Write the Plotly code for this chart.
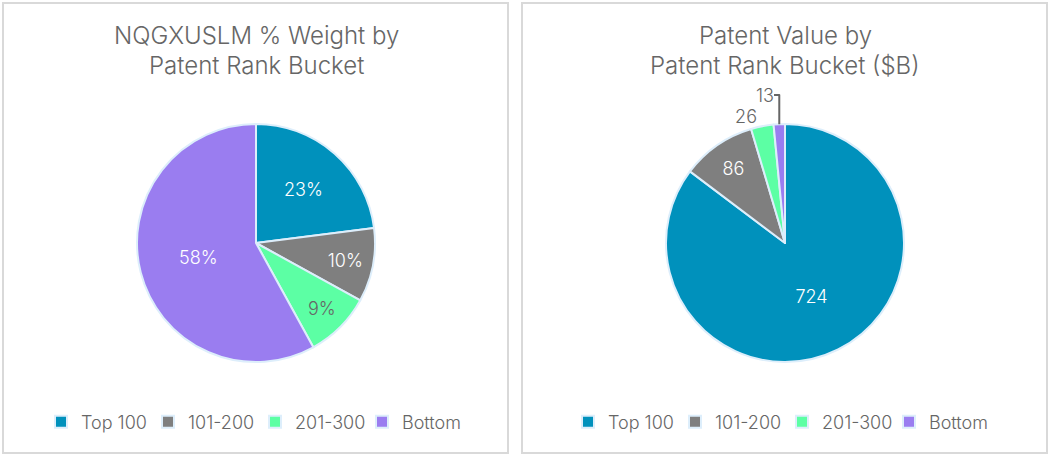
import plotly.graph_objects as go

categories = ["Top 100", "101-200", "201-300", "Bottom"]
weight_pct = [23, 10, 9, 58]
patent_value_b = [724, 86, 26, 13]

colors = ["#0091BC", "#7F7F7F", "#5CFFA4", "#9A7DF0"]
slice_line = "#DDEEFB"
W, H = 1052, 459
FONT = "Inter"
GRAY = "#666666"

fig = go.Figure()

def px(x):
    return x / W

def py(y):
    return 1 - y / H

fig.add_trace(go.Pie(
    labels=categories, values=weight_pct, sort=False, direction="clockwise", rotation=0,
    marker=dict(colors=colors, line=dict(color=slice_line, width=2)),
    texttemplate="%{value}%", textposition="inside",
    insidetextfont=dict(color=["white", "white", GRAY, "white"], size=18, family=FONT, weight=300),
    domain=dict(x=[px(137), px(375)], y=[py(362), py(124)]),
    hoverinfo="label+value", legend="legend",
    insidetextorientation="horizontal",
))

# second pie: labels suffixed with a zero-width space so they get their own legend entries
fig.add_trace(go.Pie(
    labels=[c + "\u200b" for c in categories], values=patent_value_b, sort=False,
    direction="clockwise", rotation=0,
    marker=dict(colors=colors, line=dict(color=slice_line, width=2)),
    texttemplate="%{value}", textposition=["inside", "inside", "outside", "outside"],
    insidetextfont=dict(color="white", size=18, family=FONT, weight=300),
    outsidetextfont=dict(color=GRAY, size=18, family=FONT, weight=300),
    domain=dict(x=[px(666), px(904)], y=[py(362), py(124)]),
    hoverinfo="label+value", legend="legend2",
    insidetextorientation="horizontal",
))

shapes = [
    dict(type="rect", xref="paper", yref="paper", x0=px(3), x1=px(508), y0=py(453), y1=py(3),
         line=dict(color="#D9D9D9", width=2)),
    dict(type="rect", xref="paper", yref="paper", x0=px(522), x1=px(1047), y0=py(453), y1=py(3),
         line=dict(color="#D9D9D9", width=2)),
]

annotations = []
for cx, lines in [(256, ["NQGXUSLM % Weight by", "Patent Rank Bucket"]),
                  (785, ["Patent Value by", "Patent Rank Bucket ($B)"])]:
    for i, t in enumerate(lines):
        annotations.append(dict(text=t, x=px(cx), y=py(36 + 30 * i), xref="paper", yref="paper",
                                xanchor="center", yanchor="middle", showarrow=False,
                                font=dict(family=FONT, size=24, color=GRAY, weight=300)))

legend_common = dict(orientation="h", xanchor="center", yanchor="middle",
                     font=dict(family=FONT, size=18, color=GRAY, weight=300),
                     bgcolor="rgba(0,0,0,0)", itemclick=False, itemdoubleclick=False,
                     entrywidth=62)

fig.update_layout(
    width=W, height=H, margin=dict(l=0, r=0, t=0, b=0),
    paper_bgcolor="white", plot_bgcolor="white",
    font=dict(family=FONT, color=GRAY),
    shapes=shapes, annotations=annotations,
    legend=dict(x=px(255), y=py(422), **legend_common),
    legend2=dict(x=px(782), y=py(422), **legend_common),
    showlegend=True,
)

fig.write_html("out.html")
